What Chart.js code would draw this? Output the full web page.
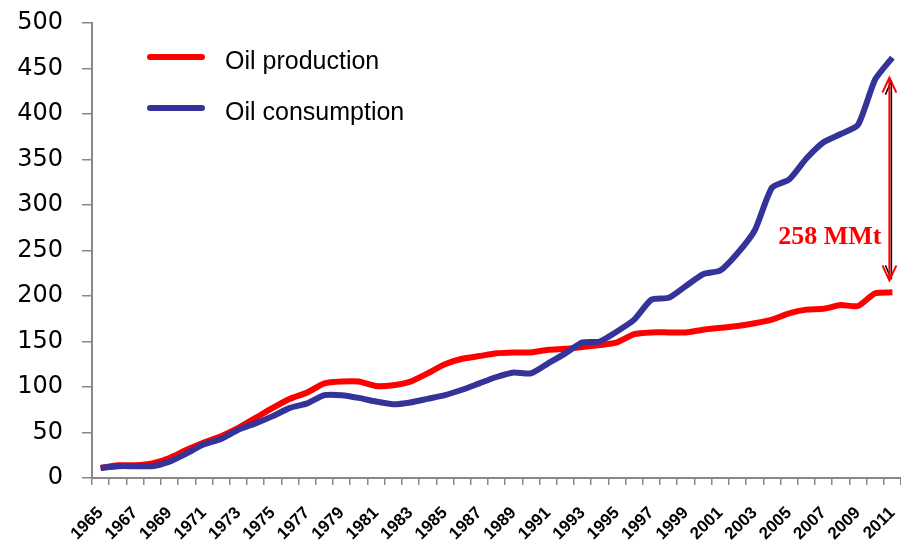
<!DOCTYPE html>
<html>
<head>
<meta charset="utf-8">
<script src="https://cdn.jsdelivr.net/npm/chart.js@4"></script>
<style>
  html, body { margin: 0; padding: 0; background: #fff; }
  #wrap { width: 901px; height: 550px; }
</style>
</head>
<body>
<div id="wrap"><canvas id="myChart" width="901" height="550"></canvas></div>
<script>
// years on the x axis
var years = [];
for (var yr = 1965; yr <= 2011; yr++) years.push(String(yr));

// oil production, million tonnes
var production = [
  11, 14, 14, 16, 22, 31, 39, 46, 55, 66,
  77, 87, 94, 104, 106, 106, 101, 102, 106, 115,
  125, 131, 134, 137, 138, 138, 141, 142, 144, 146,
  149, 158, 160, 160, 160, 163, 165, 167, 170, 174,
  181, 185, 186, 190, 189, 203, 204
];

// oil consumption, million tonnes
var consumption = [
  11, 13, 13, 13, 18, 27, 37, 43, 53, 60,
  68, 77, 82, 91, 91, 88, 84, 81, 83, 87,
  91, 97, 104, 111, 116, 115, 126, 137, 149, 150,
  161, 174, 196, 198, 211, 224, 228, 247, 272, 319,
  328, 351, 369, 378, 388, 438, 462
];

var yTicks = [0, 50, 100, 150, 200, 250, 300, 350, 400, 450, 500];

var legendItems = [
  { label: 'Oil production', color: '#ff0000' },
  { label: 'Oil consumption', color: '#333399' }
];
var gapLabel = '258 MMt';

var overlay = {
  id: 'overlay',
  afterDatasetsDraw: function (chart) {
    var c = chart.ctx;
    var xs = chart.scales.x, ys = chart.scales.y;
    c.save();
    // legend inside the plot
    c.lineCap = 'round';
    c.font = '25px "Liberation Sans", Arial, sans-serif';
    c.textBaseline = 'middle';
    c.textAlign = 'left';
    legendItems.forEach(function (it, i) {
      var ly = 57 + i * 51;
      c.strokeStyle = it.color;
      c.lineWidth = 6;
      c.beginPath();
      c.moveTo(150, ly);
      c.lineTo(202, ly);
      c.stroke();
      c.fillStyle = '#000';
      c.fillText(it.label, 225, ly + 5);
    });

    // double arrow between the two 2011 values
    var last = years.length - 1;
    var ax = Math.min(xs.getPixelForValue(last) - 3, chart.width - 5);
    var top = ys.getPixelForValue(consumption[last]) + 20;
    var bot = ys.getPixelForValue(production[last]) - 12;
    c.lineCap = 'butt';
    c.lineWidth = 1.5;
    c.strokeStyle = '#000';
    c.beginPath();
    c.moveTo(ax + 2, top + 3); c.lineTo(ax + 2, bot - 1);
    c.moveTo(ax - 4, top + 17); c.lineTo(ax + 2, top + 3);
    c.moveTo(ax - 4, bot - 15); c.lineTo(ax + 2, bot - 1);
    c.stroke();
    c.strokeStyle = '#ff0000';
    c.lineWidth = 2;
    c.beginPath();
    c.moveTo(ax, top); c.lineTo(ax, bot);
    c.moveTo(ax - 7, top + 15); c.lineTo(ax, top); c.lineTo(ax + 7, top + 15);
    c.moveTo(ax - 7, bot - 15); c.lineTo(ax, bot); c.lineTo(ax + 7, bot - 15);
    c.stroke();

    c.fillStyle = '#ff0000';
    c.font = 'bold 26px "Liberation Serif", "Times New Roman", serif';
    c.textAlign = 'right';
    c.fillText(gapLabel, ax - 8, ys.getPixelForValue(265));
    c.restore();
  }
};

var ctx = document.getElementById('myChart').getContext('2d');
var myChart = new Chart(ctx, {
  type: 'line',
  data: {
    labels: years,
    datasets: [
      {
        label: 'Oil production',
        data: production,
        borderColor: '#ff0000',
        backgroundColor: '#ff0000',
        borderWidth: 6,
        pointRadius: 0,
        tension: 0.2,
        order: 1
      },
      {
        label: 'Oil consumption',
        data: consumption,
        borderColor: '#333399',
        backgroundColor: '#333399',
        borderWidth: 6,
        pointRadius: 0,
        tension: 0.2,
        order: 0
      }
    ]
  },
  options: {
    responsive: false,
    animation: false,
    layout: { padding: { left: 17, top: 23, right: -12, bottom: 0 } },
    plugins: {
      legend: { display: false },
      tooltip: { enabled: false }
    },
    scales: {
      x: {
        offset: true,
        border: { color: '#888888', width: 2 },
        grid: { drawOnChartArea: false, offset: true, tickLength: 7, color: '#888888', lineWidth: 1.5 },
        afterFit: function (scale) {
          scale.paddingLeft = 0;
          scale.paddingRight = 0;
          scale.height = 72;
        },
        ticks: {
          autoSkip: false,
          maxRotation: 45,
          minRotation: 45,
          padding: 18,
          color: '#000',
          font: { family: 'Liberation Sans', size: 17, weight: 'bold' },
          callback: function (v, i) { return i % 2 === 0 ? years[i] : ''; }
        }
      },
      y: {
        min: 0,
        max: 500,
        border: { color: '#888888', width: 2 },
        grid: { drawOnChartArea: false, tickLength: 10, color: '#888888', lineWidth: 1.5 },
        afterBuildTicks: function (axis) {
          axis.ticks = yTicks.map(function (v) { return { value: v }; });
        },
        afterFit: function (scale) {
          scale.width = 75;
          scale.paddingTop = 0;
          scale.paddingBottom = 0;
        },
        ticks: {
          padding: 19,
          color: '#000',
          font: { family: 'DejaVu Sans', size: 24 }
        }
      }
    }
  },
  plugins: [overlay]
});
</script>
</body>
</html>
